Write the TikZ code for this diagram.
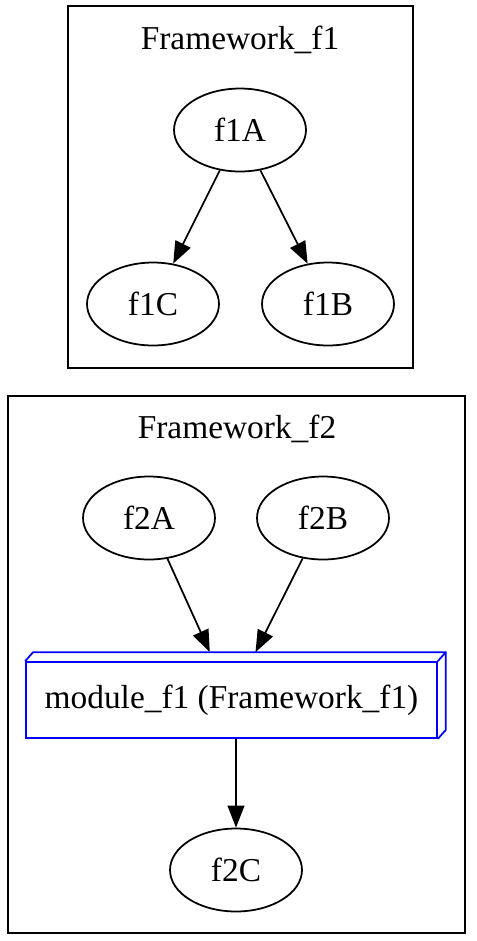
\documentclass[tikz,border=0pt]{standalone}
\usepackage{fontspec}
\setmainfont{Liberation Serif}
\usetikzlibrary{arrows.meta,shapes.geometric,calc}

\begin{document}
\begin{tikzpicture}[x=0.02cm,y=-0.02cm,
    every node/.style={font=\fontsize{19}{22}\selectfont},
    oval/.style={draw, ellipse, line width=1pt, minimum width=2.64cm, minimum height=1.66cm, inner sep=0pt},
    cluster/.style={draw, line width=1pt},
    edge/.style={line width=1pt, -{Triangle[length=12.5pt,width=9.5pt]}},
    modbox/.style={draw=blue, line width=1pt, minimum width=8.22cm, minimum height=1.52cm, inner sep=0pt}]
    \useasboundingbox (0,0) rectangle (477,941);

    % Framework_f1
    \draw[cluster] (68,6) rectangle (413,368);
    \node (t1) at (240,40) {Framework\_f1};
    \node[oval] (f1A) at (240,130) {f1A};
    \node[oval] (f1C) at (153,304) {f1C};
    \node[oval] (f1B) at (328,304) {f1B};
    \draw[edge] (f1A) -- (f1C);
    \draw[edge] (f1A) -- (f1B);

    % Framework_f2
    \draw[cluster] (8,396) rectangle (465,933);
    \node (t2) at (237,429) {Framework\_f2};
    \node[oval] (f2A) at (149,518) {f2A};
    \node[oval] (f2B) at (323,518) {f2B};
    \node[oval] (f2C) at (236,870) {f2C};

    % module box (3d)
    \node[modbox] (mod) at (231.5,700) {module\_f1 (Framework\_f1)};
    \draw[blue, line width=1pt] (mod.north west) -- ++(8,-9) -- ($(mod.north east)+(8,-9)$)
        -- ($(mod.south east)+(8,-9)$) -- (mod.south east);
    \draw[blue, line width=1pt] (mod.north east) -- ++(8,-9);

    \draw[edge, shorten >=0.2cm] (f2A) -- (mod);
    \draw[edge, shorten >=0.2cm] (f2B) -- (mod);
    \draw[edge] (mod.south -| f2C) -- (f2C);
\end{tikzpicture}
\end{document}
